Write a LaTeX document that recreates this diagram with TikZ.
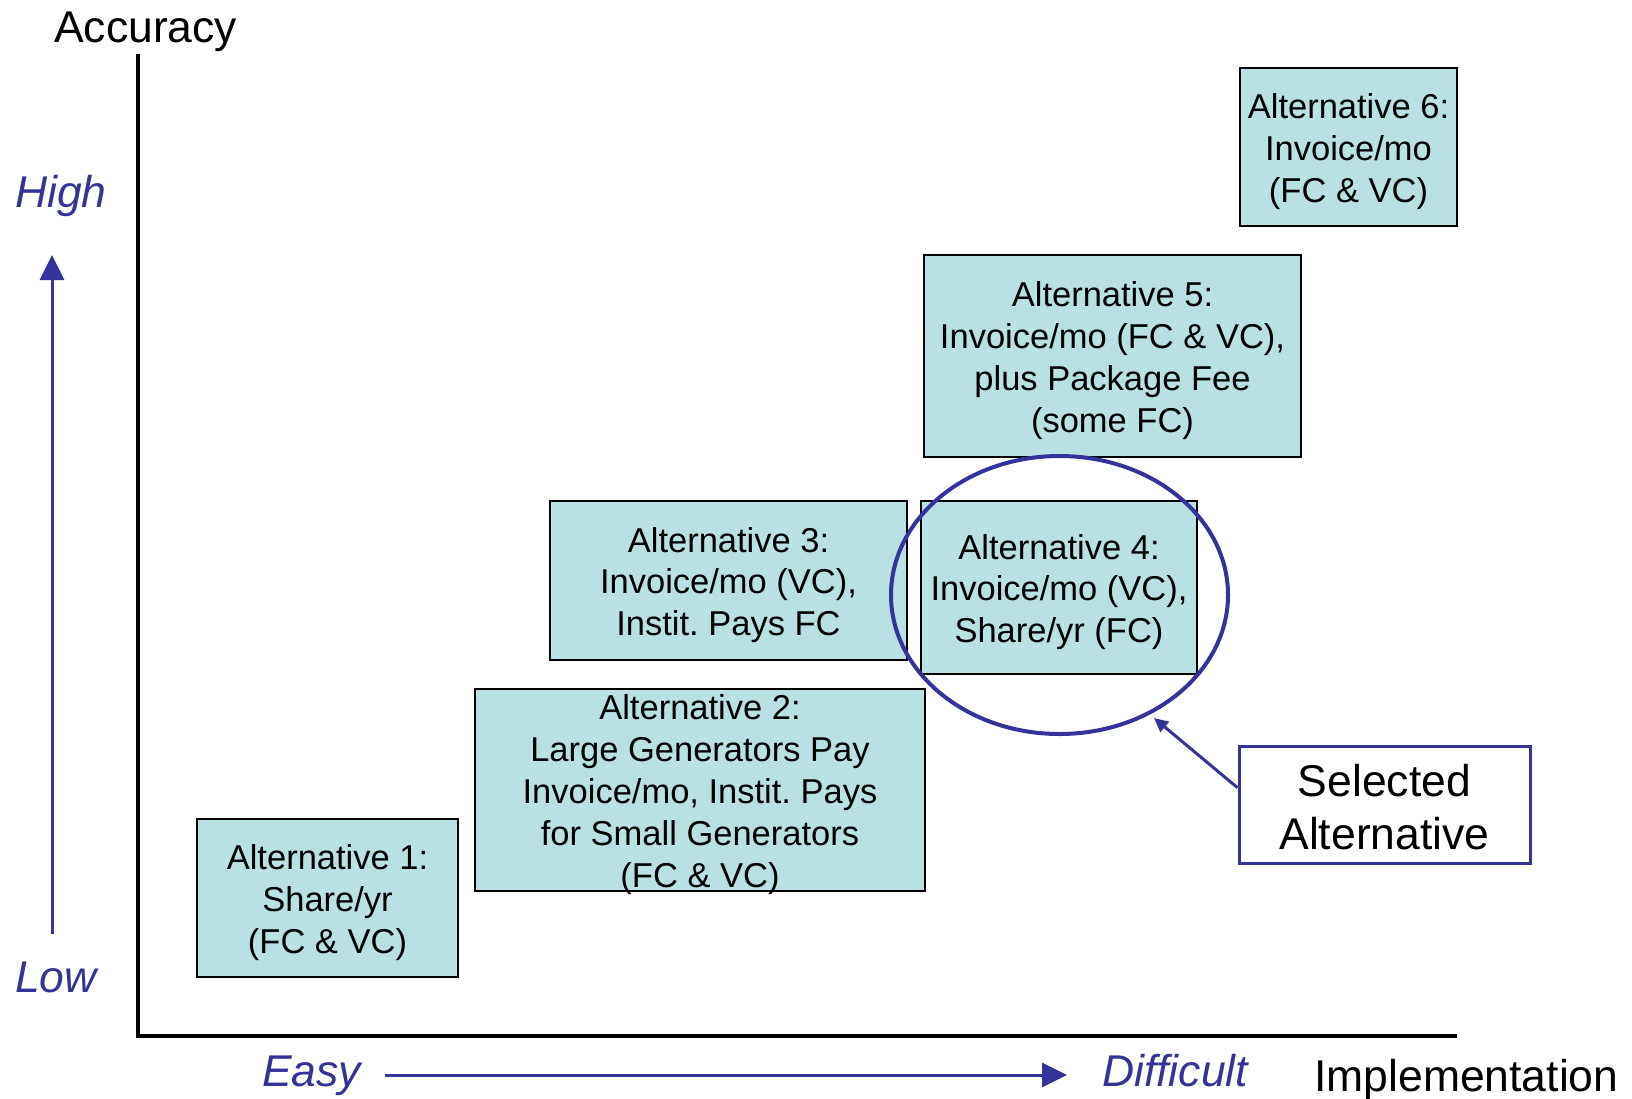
\documentclass[tikz,border=0pt]{standalone}
\usepackage{fontspec}
\setmainfont{Liberation Sans}
\usetikzlibrary{arrows.meta,shapes.geometric,calc}
\definecolor{navy}{HTML}{333399}
\definecolor{cyanfill}{HTML}{B9E0E3}
\frenchspacing
\begin{document}
\begin{tikzpicture}[x=1pt,y=-1pt,
  altbox/.style={draw=black, line width=2pt, fill=cyanfill, inner sep=0pt},
  alttext/.style={align=center, font=\fontsize{34.5}{41.8}\selectfont, inner sep=0pt, text=black, yshift=-4.5pt},
  biglabel/.style={font=\fontsize{44.5}{53}\selectfont, inner sep=0pt, text=black},
  axislabel/.style={font=\fontsize{44.5}{53}\selectfont\itshape, inner sep=0pt, text=navy},
  navyarrow/.style={draw=navy, line width=3pt},
  axisline/.style={draw=black, line width=4.5pt}]
\useasboundingbox (0,0) rectangle (1632,1098);
% axes
\coordinate (ytop) at (138,54);
\coordinate (origin) at (138,1036);
\coordinate (xend) at (1457,1036);
\draw[axisline] (ytop) -- (origin) -- (xend);
% axis labels
\node[biglabel, anchor=base west] (acc) at (54,42) {Accuracy};
\node[biglabel, anchor=base west] (impl) at (1314,1091) {Implementation};
\node[axislabel, anchor=base west] (high) at (15,207) {High};
\node[axislabel, anchor=base west] (low) at (15,992) {Low};
\node[axislabel, anchor=base west] (easy) at (262,1086) {Easy};
\node[axislabel, anchor=base west] (diff) at (1102,1086) {Difficult};
% direction arrows
\coordinate (vstart) at (52,934);
\coordinate (vend) at (52,255);
\coordinate (hstart) at (385,1075);
\coordinate (hend) at (1067,1075);
\draw[navyarrow, -{Triangle[length=25pt,width=24pt]}] (vstart) -- (vend);
\draw[navyarrow, -{Triangle[length=25pt,width=24pt]}] (hstart) -- (hend);
% alternative boxes
\node[altbox, minimum width=261pt, minimum height=158pt] (a1) at (327.5,898) {};
\node[alttext] (t1) at (a1) {Alternative 1:\\Share/yr\\(FC \& VC)};
\node[altbox, minimum width=450pt, minimum height=202pt] (a2) at (700,790) {};
\node[alttext] (t2) at (a2) {Alternative 2:\\Large Generators Pay\\Invoice/mo, Instit. Pays\\for Small Generators\\(FC \& VC)};
\node[altbox, minimum width=357pt, minimum height=159pt] (a3) at (728.5,580.5) {};
\node[alttext] (t3) at (a3) {Alternative 3:\\Invoice/mo (VC),\\Instit. Pays FC};
\node[altbox, minimum width=276pt, minimum height=173pt] (a4) at (1059,587.5) {};
\node[alttext] (t4) at (a4) {Alternative 4:\\Invoice/mo (VC),\\Share/yr (FC)};
\node[altbox, minimum width=377pt, minimum height=202pt] (a5) at (1112.5,356) {};
\node[alttext] (t5) at (a5) {Alternative 5:\\Invoice/mo (FC \& VC),\\plus Package Fee\\(some FC)};
\node[altbox, minimum width=217pt, minimum height=158pt] (a6) at (1348.5,147) {};
\node[alttext] (t6) at (a6) {Alternative 6:\\Invoice/mo\\(FC \& VC)};
% selection ellipse
\node[draw=navy, line width=4pt, ellipse, minimum width=337pt, minimum height=278pt, inner sep=0pt] (ring) at (1059.5,595) {};
% selected alternative callout
\node[draw=navy, line width=3pt, fill=white, minimum width=291pt, minimum height=117pt, inner sep=0pt] (sel) at (1384.5,804.5) {};
\node[biglabel, align=center, yshift=-3pt] (selt) at (sel) {Selected\\Alternative};
\coordinate (tip) at (1154,718);
\draw[navyarrow, -{Triangle[length=14pt,width=13pt]}] ($(sel.north west)!0.36!(sel.south west)$) -- (tip);
\end{tikzpicture}
\end{document}
